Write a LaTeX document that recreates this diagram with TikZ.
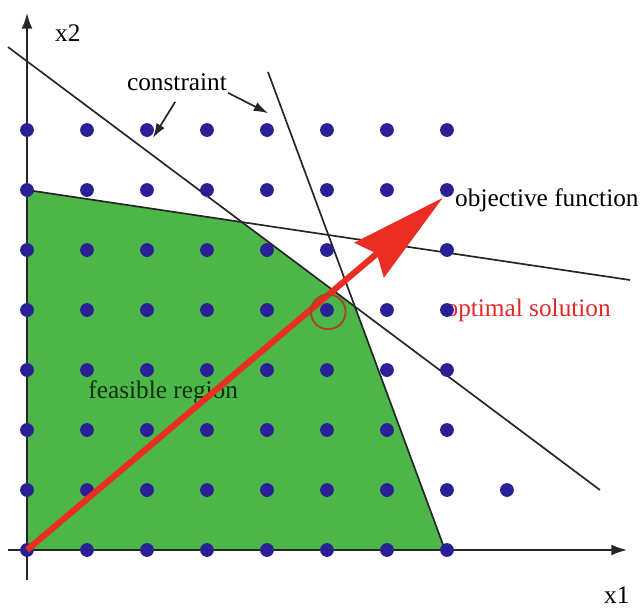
\documentclass[tikz,border=0pt]{standalone}
\usepackage{fontspec}
\setmainfont{Liberation Serif}
\usetikzlibrary{arrows.meta}
\definecolor{feasgreen}{RGB}{76,182,72}
\definecolor{dotblue}{RGB}{42,32,150}
\definecolor{objred}{RGB}{236,45,36}
\definecolor{optred}{RGB}{228,40,40}
\definecolor{optbrown}{RGB}{165,70,35}
\definecolor{feastext}{RGB}{15,45,15}

\begin{document}
\begin{tikzpicture}[
    lbl/.style={font=\fontsize{12}{14}\selectfont, inner sep=0pt},
    cline/.style={draw=black!85, line width=0.8pt},
    axis/.style={-{Latex[length=2.6mm, width=1.8mm]}, line width=0.8pt, black!85},
    ptr/.style={-{Latex[length=2.4mm, width=1.6mm]}, line width=0.8pt, black!85},
    pt/.style={circle, fill=dotblue, inner sep=0pt, minimum size=2.3mm},
    objarr/.style={-{Stealth[length=16mm, width=7.5mm, inset=1.6mm]}, line width=2.9pt, objred}
]
\useasboundingbox (-0.45,-1.0) rectangle (10.267,9.167);

% end points of the three constraints
\coordinate (a1) at (-0.317,8.383);
\coordinate (a2) at (9.55,1.0);
\coordinate (b1) at (4.017,7.967);
\coordinate (b2) at (6.967,0);
\coordinate (c1) at (0,6);
\coordinate (c2) at (10.05,4.5);
\coordinate (o) at (0,0);

% feasible region
\fill[feasgreen] (o) -- (c1) -- (intersection of a1--a2 and c1--c2)
    -- (intersection of a1--a2 and b1--b2) -- (b2) -- cycle;

\draw[cline] (a1) -- (a2);
\draw[cline] (b1) -- (b2);
\draw[cline] (c1) -- (c2);

% axes
\coordinate (xs) at (-0.32,0);
\coordinate (xe) at (10.0,0);
\coordinate (ys) at (0,-0.5);
\coordinate (ye) at (0,8.95);
\draw[axis] (xs) -- (xe);
\draw[axis] (ys) -- (ye);

% labels
\node[lbl] (x2) at (0.68,8.62) {x2};
\node[lbl] (x1) at (9.83,-0.76) {x1};
\node[lbl] (cons) at (2.5,7.8) {constraint};
\node[lbl, anchor=west] (obj) at (7.13,5.83) {objective function};
\node[lbl, anchor=west, text=optred] (opt) at (6.97,4.0) {optimal solution};
\node[lbl, text=feastext] (feas) at (2.27,2.62) {feasible region};

\coordinate (ca) at (2.47,7.47);
\coordinate (cat) at (2.1,6.87);
\coordinate (cb) at (3.35,7.62);
\coordinate (cbt) at (4.02,7.28);
\draw[ptr] (ca) -- (cat);
\draw[ptr] (cb) -- (cbt);

% integer points
\foreach \i in {0,...,7}
  \foreach \j in {0,...,7}
    \node[pt] (p\i\j) at (\i,\j) {};
\node[pt] (p81) at (8,1) {};

% objective direction
\coordinate (tip) at (6.93,5.87);
\draw[objarr] (o) -- (tip);

% optimum
\node[circle, draw=optbrown, line width=0.9pt, minimum size=5.8mm, inner sep=0pt] (optc) at (5.02,3.97) {};
\end{tikzpicture}
\end{document}
